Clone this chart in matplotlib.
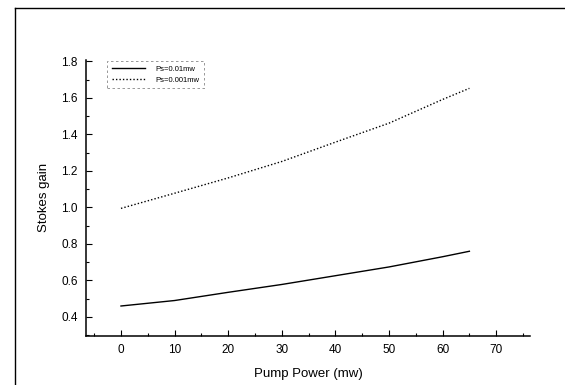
import matplotlib
matplotlib.use("Agg")
import matplotlib.pyplot as plt
from matplotlib.lines import Line2D
from matplotlib.ticker import MultipleLocator

plt.rcParams['font.family'] = ['Liberation Sans', 'DejaVu Sans']

# data
pump = [0, 10, 20, 30, 40, 50, 60, 65]
gain_001 = [0.46, 0.49, 0.535, 0.578, 0.626, 0.674, 0.73, 0.76]
gain_0001 = [0.995, 1.078, 1.162, 1.252, 1.358, 1.462, 1.592, 1.653]
labels = ['Ps=0.01mw', 'Ps=0.001mw']

fig = plt.figure(figsize=(5.65, 3.85), dpi=100)
ax = fig.add_axes([0.152, 0.127, 0.786, 0.718])

ax.plot(pump, gain_001, color='black', linewidth=1.0, linestyle='-', label=labels[0])
ax.plot(pump, gain_0001, color='black', linewidth=1.0, linestyle=(0, (1, 1.5)), label=labels[1])

ax.set_xlim(-6.55, 76.3)
ax.set_ylim(0.295, 1.81)

ax.xaxis.set_minor_locator(MultipleLocator(5))
ax.yaxis.set_minor_locator(MultipleLocator(0.1))
ax.set_xticks(range(0, 71, 10))
ax.set_yticks([0.4, 0.6, 0.8, 1.0, 1.2, 1.4, 1.6, 1.8])
ax.set_yticklabels(['0.4', '0.6', '0.8', '1.0', '1.2', '1.4', '1.6', '1.8'])

ax.tick_params(which='both', direction='in', labelsize=8.5, width=0.8)
ax.tick_params(which='major', length=4)
ax.tick_params(which='minor', length=2)
ax.tick_params(axis='x', pad=6)
ax.tick_params(axis='y', pad=6)

ax.spines['right'].set_color('none')
ax.spines['top'].set_color('none')
ax.spines['left'].set_linewidth(1.1)
ax.spines['bottom'].set_linewidth(1.1)

ax.set_xlabel('Pump Power (mw)', fontsize=9.5, labelpad=8)
ax.set_ylabel('Stokes gain', fontsize=9.5, labelpad=8)

leg = ax.legend(loc='upper left', bbox_to_anchor=(0.048, 0.995), fontsize=5.5,
                handlelength=4.3, handletextpad=1.4, borderpad=0.6,
                labelspacing=0.45, borderaxespad=0, fancybox=False, framealpha=1)
leg.get_frame().set_edgecolor('#888888')
leg.get_frame().set_linewidth(0.6)
leg.get_frame().set_linestyle((0, (3, 3)))

# scan border (top and left edges)
fig.add_artist(Line2D([15 / 565, 1.0], [1 - 8 / 385, 1 - 8 / 385],
                      transform=fig.transFigure, color='black', linewidth=1.0))
fig.add_artist(Line2D([15 / 565, 15 / 565], [1 - 8 / 385, 0.0],
                      transform=fig.transFigure, color='black', linewidth=1.0))

fig.savefig('out.png', dpi=100)
